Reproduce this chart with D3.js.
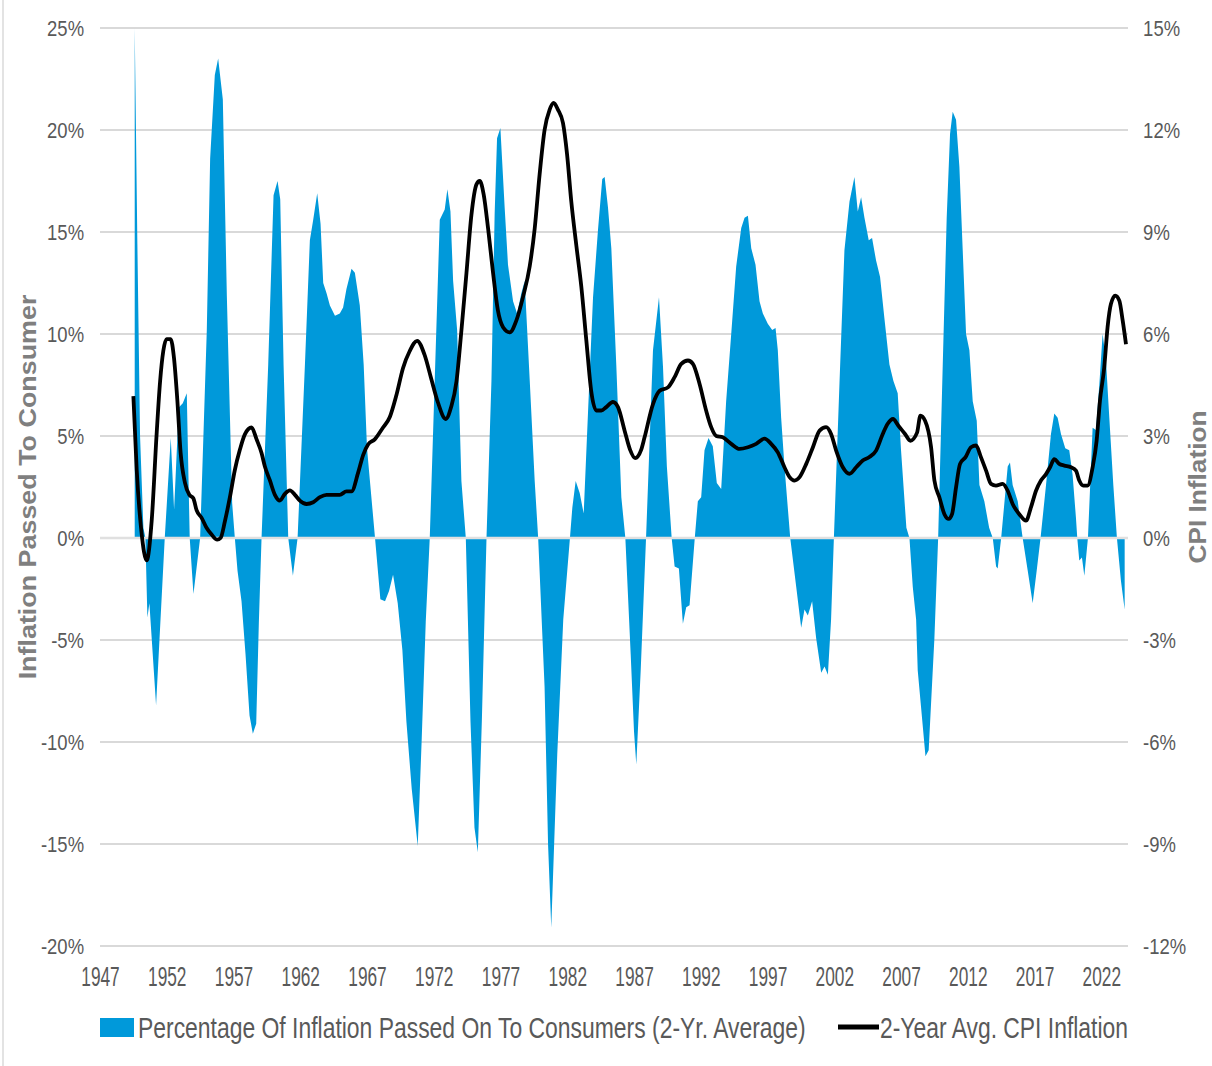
<!DOCTYPE html>
<html>
<head>
<meta charset="utf-8">
<script src="https://cdn.jsdelivr.net/npm/d3@7"></script>
<style>
  html, body { margin: 0; padding: 0; background: #fff; }
  svg { display: block; font-family: Arial, "Liberation Sans", sans-serif; }
</style>
</head>
<body>
<svg id="chart" width="1212" height="1066"></svg>
<script>
// percentage of inflation passed on to consumers (2-yr avg)
const passYears = [
  1949.6, 1949.8, 1950.0, 1950.25, 1950.4, 1950.55, 1950.7, 1951.2, 1951.85,
  1952.3, 1952.55, 1952.9, 1953.2, 1953.5, 1953.72, 1954.0, 1954.5,
  1955.0, 1955.25, 1955.6, 1955.85, 1956.2, 1956.5, 1956.9, 1957.1,
  1957.3, 1957.6, 1957.9, 1958.2, 1958.45, 1958.7, 1958.9, 1959.1,
  1959.6, 1960.0, 1960.3, 1960.5, 1960.75, 1961.1, 1961.45, 1961.8,
  1962.35, 1962.72, 1962.97, 1963.27, 1963.52, 1963.72, 1963.97, 1964.22, 1964.6,
  1964.96, 1965.21, 1965.46, 1965.84, 1966.09, 1966.46, 1966.75, 1967.0, 1967.6,
  1968.0, 1968.35, 1968.65, 1968.95, 1969.3, 1969.65, 1969.95, 1970.35, 1970.8,
  1971.1, 1971.4, 1971.7, 1972.07, 1972.45, 1972.82, 1973.02, 1973.25, 1973.45,
  1973.75, 1974.07, 1974.4, 1974.75, 1975.05, 1975.3, 1975.6, 1975.95,
  1976.32, 1976.56, 1976.74, 1976.99, 1977.31, 1977.56, 1977.94, 1978.24,
  1978.56, 1978.81, 1979.19, 1979.56, 1979.82, 1980.3, 1980.56, 1980.8,
  1981.25, 1981.7, 1982.2, 1982.38, 1982.63, 1982.93, 1983.23, 1983.55,
  1983.93, 1984.3, 1984.62, 1984.8, 1985.05, 1985.3, 1985.67, 1986.05, 1986.35,
  1986.75, 1987.0, 1987.17, 1987.5, 1987.9, 1988.42, 1988.87, 1989.17, 1989.46,
  1989.82, 1990.04, 1990.36, 1990.66, 1990.91, 1991.16, 1991.55, 1991.78,
  1992.03, 1992.28, 1992.58, 1992.9, 1993.2, 1993.53, 1993.9, 1994.28, 1994.65,
  1995.03, 1995.28, 1995.53, 1995.78, 1996.1, 1996.4, 1996.65, 1997.02, 1997.35,
  1997.6, 1997.77, 1998.02, 1998.27, 1998.7, 1999.15, 1999.52, 1999.77, 2000.02,
  2000.34, 2000.64, 2001.02, 2001.27, 2001.52, 2001.76, 2001.97, 2002.39, 2002.76,
  2003.14, 2003.51, 2003.76, 2004.01, 2004.26, 2004.58, 2004.83, 2005.13, 2005.43,
  2005.75, 2006.13, 2006.43, 2006.75, 2007.0, 2007.4, 2007.63, 2007.88, 2008.13,
  2008.25, 2008.5, 2008.83, 2009.07, 2009.25, 2009.5, 2009.78, 2010.12, 2010.42,
  2010.67, 2010.87, 2011.12, 2011.37, 2011.62, 2011.87, 2012.12, 2012.37, 2012.67,
  2012.87, 2013.24, 2013.6, 2013.87, 2014.12, 2014.24, 2014.5, 2014.99, 2015.16,
  2015.36, 2015.74, 2016.11, 2016.49, 2016.86, 2017.16, 2017.45, 2017.86, 2018.23,
  2018.48, 2018.73, 2018.98, 2019.3, 2019.6, 2019.85, 2020.1, 2020.2, 2020.35,
  2020.55, 2020.73, 2021.0, 2021.35, 2021.6, 2021.85, 2022.1, 2022.35, 2022.6,
  2022.9, 2023.17, 2023.47, 2023.75
];
const passValues = [
  25, 14.4, 5, 0.5, 0, -3.9, -3.2, -8.2, 0,
  4.9, 1.4, 6.4, 6.6, 7.1, 0, -2.75, 0,
  10.2, 18.6, 22.7, 23.5, 21.5, 11.9, 1.7, 0,
  -1.6, -3.1, -5.7, -8.7, -9.6, -9.1, -4.1, 0,
  8.5, 16.8, 17.5, 16.6, 8.5, 0, -1.85, 0,
  8.5, 14.6, 15.6, 16.9, 15.4, 12.5, 12.0, 11.4, 10.9,
  11.0, 11.3, 12.2, 13.2, 13.0, 11.4, 8.5, 4.4, 0,
  -3.0, -3.1, -2.6, -1.8, -3.2, -5.5, -9.0, -12.3, -15.1,
  -9.8, -4.1, 0, 7.7, 15.6, 16.1, 17.1, 16.0, 12.6,
  10.2, 2.8, 0, -9, -14.2, -15.4, -9, 0,
  7.7, 15.9, 19.6, 20.1, 16.2, 13.4, 11.6, 11.0,
  12.0, 12.6, 7.7, 2.8, 0, -7.3, -15, -19.1,
  -10.6, -4, 0, 1.5, 2.8, 2.2, 1.2, 6.1,
  11.8, 15.1, 17.6, 17.7, 16.2, 14.2, 8.5, 2.0, 0,
  -5.7, -9.5, -11.1, -6.5, 0, 9.2, 11.8, 8.4, 3.5,
  0, -1.4, -1.5, -4.2, -3.4, -3.3, 0, 1.8,
  2.0, 4.3, 4.9, 4.5, 2.7, 2.4, 6.7, 10.0, 13.3,
  15.2, 15.7, 15.8, 14.2, 13.4, 11.6, 11.0, 10.5, 10.2,
  10.3, 9.2, 5.9, 3.5, 0, -2.4, -4.4, -3.5, -3.8,
  -3.1, -4.9, -6.6, -6.3, -6.7, -4.0, 0, 7.6, 14.1,
  16.5, 17.7, 16.0, 16.7, 15.7, 14.6, 14.7, 13.6, 12.8,
  10.8, 8.5, 7.7, 7.1, 4.3, 0.5, 0, -2.4, -4.0,
  -6.5, -8.3, -10.7, -10.4, -8.1, -4.9, 0, 8.4, 15.7,
  19.8, 20.9, 20.5, 18.2, 14.1, 10.0, 9.2, 6.7, 5.75,
  2.6, 1.8, 0.5, 0, -1.4, -1.5, 0, 3.5, 3.7,
  2.6, 1.8, 0, -1.6, -3.2, -1.6, 0, 2.6, 5.1,
  6.1, 5.9, 5.1, 4.4, 4.3, 3.1, 1.0, 0, -1.1,
  -0.95, -1.85, 0, 5.4, 5.3, 7.5, 10.0, 8.7, 5.9,
  2.6, 0, -2.1, -3.5
];

// 2-year average CPI inflation (right axis)
const cpiYears = [
  1949.5, 1949.75, 1950.1, 1950.5, 1950.87, 1951.24, 1951.5, 1951.74, 1951.99,
  1952.29, 1952.54, 1952.79, 1953.04, 1953.36, 1953.69, 1953.99, 1954.24, 1954.6,
  1954.98, 1955.36, 1955.78, 1956.03, 1956.36, 1956.73, 1957.1, 1957.48, 1957.85,
  1958.35, 1958.73, 1959.1, 1959.35, 1959.72, 1960.1, 1960.47, 1960.85, 1961.22,
  1961.6, 1961.97, 1962.47, 1962.97, 1963.47, 1963.97, 1964.46, 1964.96, 1965.46,
  1965.84, 1966.34, 1966.71, 1967.08, 1967.58, 1968.2, 1968.7, 1969.2, 1969.7,
  1970.2, 1970.75, 1971.3, 1971.8, 1972.3, 1972.9, 1973.3, 1973.7, 1974.07,
  1974.45, 1974.82, 1975.2, 1975.44, 1975.74, 1976.07, 1976.44, 1976.8, 1977.19,
  1977.69, 1978.19, 1978.69, 1979.19, 1979.56, 1979.93, 1980.3, 1980.68, 1980.98,
  1981.3, 1981.68, 1981.98, 1982.3, 1982.68, 1983.05, 1983.43, 1983.8, 1984.17,
  1984.55, 1984.92, 1985.42, 1985.8, 1986.3, 1986.7, 1987.08, 1987.54, 1987.79,
  1988.42, 1988.92, 1989.54, 1990.04, 1990.54, 1991.04, 1991.41, 1991.91, 1992.4,
  1992.78, 1993.16, 1993.65, 1994.28, 1994.9, 1995.53, 1996.15, 1996.77, 1997.27,
  1997.77, 1998.27, 1998.65, 1999.02, 1999.4, 1999.9, 2000.4, 2000.9, 2001.39,
  2001.76, 2002.14, 2002.64, 2003.14, 2003.64, 2004.13, 2004.63, 2005.13, 2005.63,
  2006.0, 2006.4, 2006.8, 2007.3, 2007.7, 2008.2, 2008.45, 2008.8, 2009.25,
  2009.5, 2009.87, 2010.25, 2010.57, 2010.82, 2011.12, 2011.42, 2011.82, 2012.24,
  2012.62, 2012.99, 2013.37, 2013.74, 2014.11, 2014.61, 2014.99, 2015.36, 2015.86,
  2016.36, 2016.73, 2017.11, 2017.48, 2017.86, 2018.16, 2018.48, 2018.85, 2019.23,
  2019.73, 2020.1, 2020.35, 2020.65, 2020.97, 2021.35, 2021.65, 2021.9, 2022.22,
  2022.47, 2022.72, 2023.05, 2023.35, 2023.6, 2023.85
];
const cpiValues = [
  4.17, 2.0, 0.2, -0.66, 0.5, 3.05, 4.6, 5.5, 5.85,
  5.85, 5.3, 4.07, 2.5, 1.63, 1.27, 1.17, 0.81, 0.6,
  0.3, 0.1, -0.05, 0.0, 0.5, 1.2, 2.0, 2.6, 3.05,
  3.25, 2.9, 2.5, 2.1, 1.7, 1.27, 1.1, 1.3, 1.4,
  1.27, 1.1, 1.0, 1.05, 1.2, 1.27, 1.27, 1.27, 1.37,
  1.37, 1.93, 2.44, 2.75, 2.9, 3.25, 3.55, 4.2, 5.0,
  5.5, 5.8, 5.4, 4.7, 4.0, 3.5, 3.85, 4.6, 6.1,
  7.8, 9.5, 10.4, 10.5, 10.1, 9.1, 7.8, 6.7, 6.2,
  6.05, 6.4, 7.1, 8.0, 9.1, 10.7, 12.0, 12.6, 12.8,
  12.6, 12.2, 11.3, 9.9, 8.6, 7.4, 5.8, 4.3, 3.75,
  3.75, 3.85, 4.0, 3.85, 3.15, 2.6, 2.35, 2.6, 2.96,
  3.94, 4.33, 4.43, 4.73, 5.12, 5.22, 5.12, 4.53, 3.75,
  3.26, 3.0, 2.96, 2.77, 2.62, 2.67, 2.77, 2.92, 2.77,
  2.52, 2.08, 1.79, 1.69, 1.79, 2.18, 2.67, 3.16, 3.26,
  3.06, 2.57, 2.08, 1.89, 2.08, 2.28, 2.38, 2.57, 3.06,
  3.36, 3.5, 3.3, 3.06, 2.86, 3.1, 3.6, 3.45, 2.67,
  1.69, 1.2, 0.7, 0.56, 0.7, 1.49, 2.18, 2.37, 2.67,
  2.72, 2.37, 1.98, 1.59, 1.54, 1.59, 1.39, 1.0, 0.7,
  0.51, 0.9, 1.39, 1.69, 1.88, 2.08, 2.32, 2.18, 2.13,
  2.08, 1.98, 1.69, 1.54, 1.54, 2.08, 2.86, 4.04, 5.02,
  6.2, 6.88, 7.13, 6.98, 6.4, 5.7
];

// axis ticks
const yearTicks = d3.range(1947, 2023, 5);
const leftTicks = [-20, -15, -10, -5, 0, 5, 10, 15, 20, 25];
const rightTicks = [-12, -9, -6, -3, 0, 3, 6, 9, 12, 15];

const passLabel = 'Percentage Of Inflation Passed On To Consumers (2-Yr. Average)';
const cpiLabel = '2-Year Avg. CPI Inflation';

const svg = d3.select('#chart');
const plot = { left: 100, right: 1128, top: 28, bottom: 946 };
const blue = '#0099da';
const grid = '#d9d9d9';
const textGray = '#595959';

const x = d3.scaleLinear().domain([1947, 2024]).range([plot.left, plot.right]);
const yL = d3.scaleLinear().domain([-20, 25]).range([plot.bottom, plot.top]);
const yR = d3.scaleLinear().domain([-12, 15]).range([plot.bottom, plot.top]);

// squeeze a text horizontally (along its own baseline) to a given length
function squeeze(sel, width, base) {
  const w = sel.node().getComputedTextLength();
  sel.attr('transform', `${base} scale(${width / w},1)`);
}

// faint frame line on the left edge
svg.append('line')
  .attr('x1', 3).attr('x2', 3).attr('y1', 0).attr('y2', 1066)
  .attr('stroke', '#e3e3e3').attr('stroke-width', 2);

// gridlines (behind the area)
svg.append('g')
  .selectAll('line')
  .data(leftTicks.filter(d => d !== 0))
  .join('line')
  .attr('x1', plot.left).attr('x2', plot.right)
  .attr('y1', d => yL(d)).attr('y2', d => yL(d))
  .attr('stroke', grid).attr('stroke-width', 2);

const passData = passYears.map((yr, i) => ({ yr, v: passValues[i] }));
const cpiData = cpiYears.map((yr, i) => ({ yr, v: cpiValues[i] }));

svg.append('path')
  .datum(passData)
  .attr('fill', blue)
  .attr('d', d3.area()
    .x(d => x(d.yr))
    .y0(yL(0))
    .y1(d => yL(d.v)));

// zero line on top of the area
svg.append('line')
  .attr('x1', plot.left).attr('x2', plot.right)
  .attr('y1', yL(0)).attr('y2', yL(0))
  .attr('stroke', '#e0e0e0').attr('stroke-width', 2.5);

svg.append('path')
  .datum(cpiData)
  .attr('fill', 'none')
  .attr('stroke', '#000')
  .attr('stroke-width', 3.8)
  .attr('stroke-linejoin', 'round')
  .attr('d', d3.line()
    .curve(d3.curveMonotoneX)
    .x(d => x(d.yr))
    .y(d => yR(d.v)));

// axes
const fmtPct = d => `${d}%`;

const gL = svg.append('g')
  .attr('transform', `translate(${plot.left},0)`)
  .call(d3.axisLeft(yL).tickValues(leftTicks).tickFormat(fmtPct).tickSize(0).tickPadding(19));

const gR = svg.append('g')
  .attr('transform', `translate(${plot.right},0)`)
  .call(d3.axisRight(yR).tickValues(rightTicks).tickFormat(fmtPct).tickSize(0).tickPadding(18));

const gB = svg.append('g')
  .attr('transform', `translate(0,${plot.bottom})`)
  .call(d3.axisBottom(x).tickValues(yearTicks).tickFormat(d3.format('d')).tickSize(0).tickPadding(21));

[gL, gR, gB].forEach(g => g.select('.domain').remove());

[gL, gR].forEach(g => g.selectAll('text')
  .attr('fill', textGray)
  .style('font-size', '22px')
  .attr('transform', 'scale(0.84,1)'));

gB.selectAll('text')
  .attr('fill', textGray)
  .style('font-size', '27px')
  .attr('transform', 'scale(0.64,1)');

// axis titles
svg.append('text')
  .attr('text-anchor', 'middle')
  .attr('fill', '#7f7f7f')
  .attr('font-weight', 'bold')
  .style('font-size', '24px')
  .text('Inflation Passed To Consumer')
  .call(squeeze, 385, 'translate(36,487) rotate(-90)');

svg.append('text')
  .attr('text-anchor', 'middle')
  .attr('fill', '#7f7f7f')
  .attr('font-weight', 'bold')
  .style('font-size', '24px')
  .text('CPI Inflation')
  .call(squeeze, 153, 'translate(1206,487) rotate(-90)');

// legend
const lg = svg.append('g');
lg.append('rect')
  .attr('x', 100).attr('y', 1018).attr('width', 34).attr('height', 19)
  .attr('fill', blue);
lg.append('text')
  .attr('fill', textGray)
  .style('font-size', '29px')
  .text(passLabel)
  .call(squeeze, 668, 'translate(138,1038)');
lg.append('line')
  .attr('x1', 838).attr('x2', 879).attr('y1', 1027).attr('y2', 1027)
  .attr('stroke', '#000').attr('stroke-width', 5);
lg.append('text')
  .attr('fill', textGray)
  .style('font-size', '29px')
  .text(cpiLabel)
  .call(squeeze, 248, 'translate(880,1038)');
</script>
</body>
</html>
